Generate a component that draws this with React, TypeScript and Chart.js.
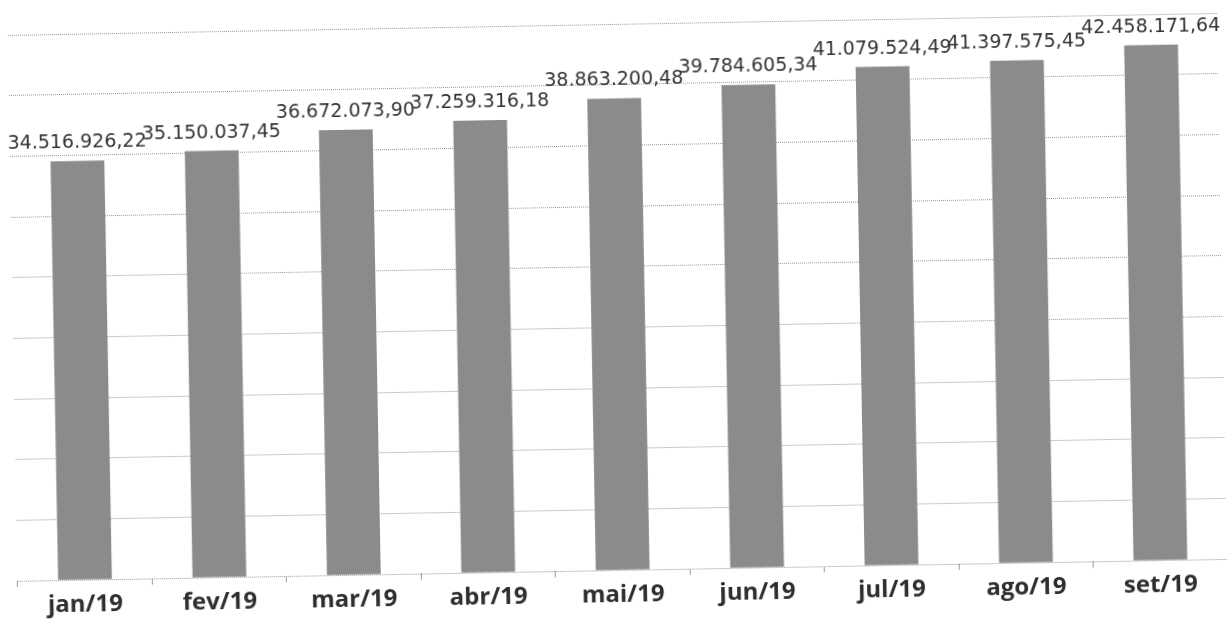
import React, { useEffect, useRef } from "react";
import { Chart, registerables } from "chart.js";

Chart.register(...registerables);

const categories = ["jan/19", "fev/19", "mar/19", "abr/19", "mai/19", "jun/19", "jul/19", "ago/19", "set/19"];
const values = [34516926.22, 35150037.45, 36672073.9, 37259316.18, 38863200.48, 39784605.34, 41079524.49, 41397575.45, 42458171.64];
const yMax = 45000000;
const yStep = 5000000;

function formatBR(v: number): string {
  const [intPart, dec] = v.toFixed(2).split(".");
  const withDots = intPart.replace(/\B(?=(\d{3})+(?!\d))/g, ".");
  return withDots + "," + dec;
}

const valueLabels = {
  id: "valueLabels",
  afterDatasetsDraw(chart: any) {
    const ctx = chart.ctx;
    const meta = chart.getDatasetMeta(0);
    ctx.save();
    ctx.font = "19px 'DejaVu Sans'";
    ctx.fillStyle = "#333333";
    ctx.textAlign = "center";
    ctx.textBaseline = "alphabetic";
    meta.data.forEach((bar: any, i: number) => {
      ctx.fillText(formatBR(values[i]), bar.x, bar.y - 13);
    });
    ctx.restore();
  },
};

export default function App() {
  const ref = useRef<HTMLCanvasElement | null>(null);
  useEffect(() => {
    if (!ref.current) return;
    const chart = new Chart(ref.current, {
      type: "bar",
      data: {
        labels: categories,
        datasets: [
          {
            data: values,
            backgroundColor: "#8b8b8e",
            borderWidth: 0,
            barPercentage: 0.8,
            categoryPercentage: 0.5,
          },
        ],
      },
      options: {
        animation: false,
        responsive: true,
        maintainAspectRatio: false,
        layout: { padding: { left: 13, right: 4, top: 24, bottom: 7 } },
        plugins: { legend: { display: false }, tooltip: { enabled: false } },
        scales: {
          x: {
            offset: true,
            border: { display: false },
            grid: {
              display: true,
              drawOnChartArea: false,
              drawTicks: true,
              tickLength: 6,
              offset: true,
              color: "#999999",
            },
            ticks: {
              padding: 5,
              color: "#2e2e2e",
              font: { family: "'Open Sans'", size: 24, weight: "bold" },
            },
          },
          y: {
            min: 0,
            max: yMax,
            border: { display: false, dash: [1, 1] },
            grid: {
              color: "#9a9a9a",
              lineWidth: 1,
              drawTicks: false,
            },
            ticks: { display: false, stepSize: yStep },
          },
        },
      },
      plugins: [valueLabels],
    });
    return () => chart.destroy();
  }, []);

  return (
    <div
      style={{
        position: "fixed",
        left: 0,
        top: 0,
        width: 1227,
        height: 622,
        background: "#ffffff",
        transform: "rotate(-1.04deg)",
        transformOrigin: "50% 50%",
      }}
    >
      <canvas ref={ref} />
    </div>
  );
}
